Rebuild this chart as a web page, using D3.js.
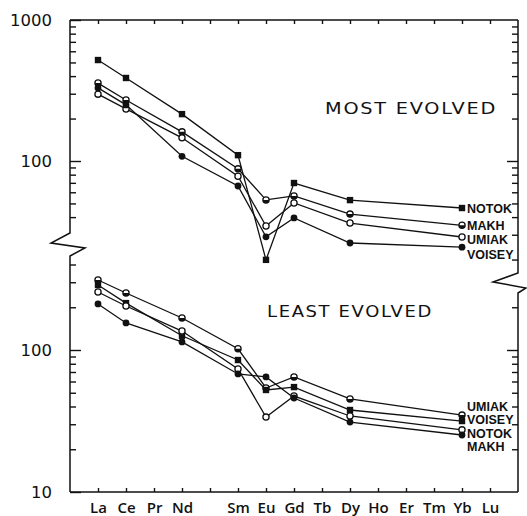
<!DOCTYPE html>
<html>
<head>
<meta charset="utf-8">
<script src="https://cdn.jsdelivr.net/npm/d3@7"></script>
<style>
  body { margin: 0; background: #fff; }
  svg { display: block; }
</style>
</head>
<body>
<svg id="chart" width="527" height="516"></svg>
<script>
// Rare-earth element order along the x axis (Pm has a slot but no label)
const elements = ["La","Ce","Pr","Nd","Pm","Sm","Eu","Gd","Tb","Dy","Ho","Er","Tm","Yb","Lu"];
const elementTickLabels = ["La","Ce","Pr","Nd","Sm","Eu","Gd","Tb","Dy","Ho","Er","Tm","Yb","Lu"];
// Elements actually analysed
const analysed = ["La","Ce","Nd","Sm","Eu","Gd","Dy","Yb"];

// Chondrite-normalised abundances, most evolved samples
const mostNOTOK  = [520, 388, 215, 110, 19.9, 69.8, 52.8, 46.4];
const mostMAKH   = [357, 271, 161, 88, 53, 56.5, 42, 35];
const mostUMIAK  = [298, 234, 146, 78, 34.6, 50.4, 36.3, 28.9];
const mostVOISEY = [330, 250, 108, 66.5, 29, 39.5, 26.2, 24.5];

// Chondrite-normalised abundances, least evolved samples
const leastUMIAK  = [311, 252, 168, 102, 54, 64.6, 45.2, 34.8];
const leastVOISEY = [287, 214, 126, 85, 52.3, 54.8, 37.8, 31.6];
const leastNOTOK  = [256, 204, 136, 73.5, 33.7, 47.4, 34.3, 27.4];
const leastMAKH   = [211, 155, 114, 67.8, 64.6, 45.9, 31.1, 25.2];

// Labelled y-axis values
const topAxisLabels = [1000, 100];
const bottomAxisLabels = [100, 10];

const panelTitles = ["MOST EVOLVED", "LEAST EVOLVED"];

const mostEvolved = [
  { name: "NOTOK",  values: mostNOTOK,  marker: "square" },
  { name: "MAKH",   values: mostMAKH,   marker: "half" },
  { name: "UMIAK",  values: mostUMIAK,  marker: "open" },
  { name: "VOISEY", values: mostVOISEY, marker: "filled" }
];
const leastEvolved = [
  { name: "UMIAK",  values: leastUMIAK,  marker: "half" },
  { name: "VOISEY", values: leastVOISEY, marker: "square" },
  { name: "NOTOK",  values: leastNOTOK,  marker: "open" },
  { name: "MAKH",   values: leastMAKH,   marker: "filled" }
];

const svg = d3.select("#chart");
const L = 70, R = 518, T = 20, B = 492;

const x = d3.scalePoint().domain(elements).range([L, R]).padding(1);
const yTop = d3.scaleLog().domain([1000, 100]).range([T, 161]);
const yBot = d3.scaleLog().domain([100, 10]).range([350, B]);

// Axis breaks (y pixel where each panel's axis segment stops)
const leftBreak = { top: 233, bottom: 256 };
const rightBreak = { top: 273, bottom: 293 };

const ink = "#111";

// Frame with broken side axes
const frame = svg.append("g").attr("fill", "none").attr("stroke", ink).attr("stroke-width", 1.5)
  .attr("stroke-linejoin", "miter");
frame.append("path").attr("d", d3.line()([[L, T], [R, T]]));
frame.append("path").attr("d", d3.line()([[L, B], [R, B]]));
frame.append("path").attr("d", d3.line()([
  [L, T], [L, leftBreak.top], [L - 19, leftBreak.top + 10], [L + 15, leftBreak.top + 15],
  [L, leftBreak.bottom], [L, B]
]));
frame.append("path").attr("d", d3.line()([
  [R, T], [R, rightBreak.top], [R - 25, rightBreak.top + 9], [R + 8, rightBreak.top + 15],
  [R, rightBreak.bottom], [R, B]
]));

// Log tick helpers
function minorTicks(scale, lo, hi, majors) {
  return scale.copy().domain([lo, hi]).ticks().filter(v => !majors.includes(v));
}

function yTicks(scale, side, xPos, yMin, yMax, majors, withLabels) {
  const lo = scale.invert(yMax), hi = scale.invert(yMin);
  const minors = minorTicks(scale, Math.max(lo, 1), hi, majors)
    .filter(v => scale(v) > yMin + 1 && scale(v) < yMax - 1);
  const mk = side === "left" ? d3.axisLeft : d3.axisRight;
  const gMinor = svg.append("g").attr("transform", `translate(${xPos},0)`)
    .call(mk(scale).tickValues(minors).tickSize(-6).tickFormat(""));
  gMinor.select(".domain").remove();
  const gMajor = svg.append("g").attr("transform", `translate(${xPos},0)`)
    .call(mk(scale).tickValues(majors).tickSize(-11).tickPadding(18)
      .tickFormat(withLabels ? d3.format("d") : () => ""));
  gMajor.select(".domain").remove();
  [gMinor, gMajor].forEach(g => {
    g.selectAll("line").attr("stroke", ink).attr("stroke-width", 1.4);
    g.selectAll("text").attr("font-family", "DejaVu Sans, sans-serif")
      .attr("font-size", 16.5).attr("fill", ink);
  });
}

yTicks(yTop, "left", L, T, leftBreak.top, topAxisLabels, true);
yTicks(yBot, "left", L, leftBreak.bottom, B, bottomAxisLabels, true);
yTicks(yTop, "right", R, T, rightBreak.top, topAxisLabels.filter(v => yTop(v) > T + 1), false);
yTicks(yBot, "right", R, rightBreak.bottom, B, bottomAxisLabels.filter(v => yBot(v) < B - 1), false);

// Element ticks on top and bottom edges
const topAx = svg.append("g").attr("transform", `translate(0,${T})`)
  .call(d3.axisTop(x).tickSize(-4).tickFormat(""));
topAx.select(".domain").remove();
const botAx = svg.append("g").attr("transform", `translate(0,${B})`)
  .call(d3.axisBottom(x).tickSize(-4).tickPadding(10)
    .tickFormat(d => elementTickLabels.includes(d) ? d : ""));
botAx.select(".domain").remove();
[topAx, botAx].forEach(g => {
  g.selectAll("line").attr("stroke", ink).attr("stroke-width", 1.4);
  g.selectAll("text").attr("font-family", "Open Sans, DejaVu Sans, sans-serif")
    .attr("font-weight", 600).attr("font-size", 15).attr("fill", ink);
});

// Series lines and markers
const line = scale => d3.line().x((d, i) => x(analysed[i])).y(d => scale(d));

function drawMarker(g, type, cx, cy) {
  if (type === "square") {
    g.append("rect").attr("x", cx - 3.2).attr("y", cy - 3.2).attr("width", 6.4).attr("height", 6.4)
      .attr("fill", ink);
  } else if (type === "filled") {
    g.append("circle").attr("cx", cx).attr("cy", cy).attr("r", 3.4).attr("fill", ink);
  } else if (type === "open") {
    g.append("circle").attr("cx", cx).attr("cy", cy).attr("r", 3.1)
      .attr("fill", "#fff").attr("stroke", ink).attr("stroke-width", 1.3);
  } else {
    g.append("circle").attr("cx", cx).attr("cy", cy).attr("r", 3.1)
      .attr("fill", "#fff").attr("stroke", ink).attr("stroke-width", 1.3);
    const arc = d3.arc().innerRadius(0).outerRadius(3.1).startAngle(Math.PI / 2).endAngle(Math.PI * 1.5);
    g.append("path").attr("transform", `translate(${cx},${cy})`).attr("d", arc()).attr("fill", ink);
  }
}

function drawPanel(series, scale) {
  const g = svg.append("g");
  series.forEach(s => {
    g.append("path").attr("d", line(scale)(s.values))
      .attr("fill", "none").attr("stroke", ink).attr("stroke-width", 1.3);
  });
  series.forEach(s => {
    s.values.forEach((v, i) => drawMarker(g, s.marker, x(analysed[i]), scale(v)));
  });
}

drawPanel(mostEvolved, yTop);
drawPanel(leastEvolved, yBot);

// Sample labels beside the last analysed element
function stackLabels(series, scale, gap, mode) {
  const last = analysed.length - 1;
  const ys = series.map(s => scale(s.values[last]));
  let out;
  if (mode === "push") {
    out = [];
    ys.forEach((y, i) => out.push(i === 0 ? y : Math.max(y, out[i - 1] + gap)));
  } else {
    const mid = d3.mean(ys) + 1.5;
    out = ys.map((y, i) => mid + (i - (ys.length - 1) / 2) * gap);
  }
  svg.append("g").selectAll("text").data(series).join("text")
    .attr("x", x(analysed[last]) + 5)
    .attr("y", (d, i) => out[i])
    .attr("dy", "0.36em")
    .attr("font-family", "Liberation Sans, Arial, sans-serif")
    .attr("font-weight", "bold")
    .attr("font-size", 12.5)
    .attr("fill", ink)
    .text(d => d.name);
}
stackLabels(mostEvolved, yTop, 14.5, "push");
stackLabels(leastEvolved, yBot, 13.5, "center");

// Panel titles, stretched to the lettering's full width
const titleSpec = [
  { text: panelTitles[0], x: 325, y: 114, w: 172 },
  { text: panelTitles[1], x: 267, y: 317, w: 166 }
];
svg.append("g").selectAll("text").data(titleSpec).join("text")
  .attr("x", d => d.x).attr("y", d => d.y)
  .attr("textLength", d => d.w).attr("lengthAdjust", "spacingAndGlyphs")
  .attr("letter-spacing", 1.5)
  .attr("font-family", "DejaVu Sans, sans-serif").attr("font-size", 16.5)
  .attr("fill", ink)
  .text(d => d.text);
</script>
</body>
</html>
